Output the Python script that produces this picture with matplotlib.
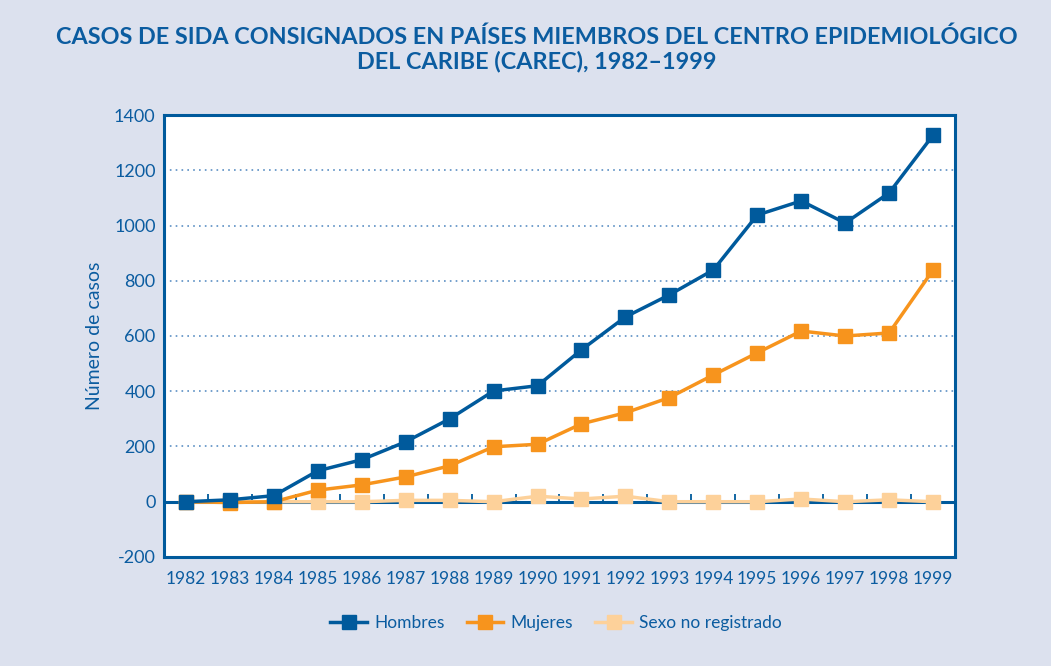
import numpy as np
import matplotlib
matplotlib.use("Agg")
import matplotlib.pyplot as plt

plt.rcParams['font.family'] = ['Lato', 'DejaVu Sans']
plt.rcParams['axes.unicode_minus'] = False

years = [str(y) for y in range(1982, 2000)]
hombres = [0, 7, 22, 112, 152, 217, 300, 401, 420, 550, 669, 749, 839, 1038, 1089, 1009, 1118, 1327]
mujeres = [0, -3, 0, 42, 61, 90, 130, 199, 208, 282, 322, 377, 459, 539, 618, 600, 611, 839]
sexo_nr = [0, 0, 0, 0, 0, 5, 5, 0, 20, 10, 20, 0, 0, 0, 10, 0, 7, 0]

bg = '#DCE1EE'
blue = '#005A9C'
orange = '#F7941D'
light = '#FDD19A'
txt = '#0B5CA0'

fig = plt.figure(figsize=(10.51, 6.66), dpi=100, facecolor=bg)
ax = fig.add_axes([0.156, 0.1637, 0.7527, 0.6636])
ax.set_facecolor('white')

x = np.arange(len(years))

# zero line with category tick marks
ax.axhline(0, color=blue, lw=2.2, zorder=2)
ax.vlines(x[:-1] + 0.5, 0, 28, color=blue, lw=1.3, zorder=2)

ax.plot(x, sexo_nr, color=light, lw=2.5, marker='s', ms=9.5, zorder=3, label='Sexo no registrado')
ax.plot(x, mujeres, color=orange, lw=2.5, marker='s', ms=9.5, zorder=4, label='Mujeres')
ax.plot(x, hombres, color=blue, lw=2.5, marker='s', ms=9.5, zorder=5, label='Hombres')

ax.set_xlim(-0.5, len(years) - 0.5)
ax.set_ylim(-200, 1400)
ax.set_yticks(range(-200, 1401, 200))
ax.set_xticks(x)
ax.set_xticklabels(years)
ax.tick_params(axis='both', length=0, colors=txt, labelsize=13)
ax.tick_params(axis='x', pad=10, labelsize=12.5)
ax.tick_params(axis='y', pad=6)

for v in range(200, 1201, 200):
    ax.axhline(v, color='#5B8FC4', lw=1.2, ls=(0, (1, 2.5)), zorder=1)

for s in ax.spines.values():
    s.set_color(blue)
    s.set_linewidth(2.2)

ax.set_ylabel('Número de casos', color=txt, fontsize=14, labelpad=8)

fig.text(0.511, 0.96, 'CASOS DE SIDA CONSIGNADOS EN PAÍSES MIEMBROS DEL CENTRO EPIDEMIOLÓGICO\nDEL CARIBE (CAREC), 1982–1999',
         ha='center', va='top', color=txt, fontsize=16.8, fontweight='bold', linespacing=1.12)

h, l = ax.get_legend_handles_labels()
leg = fig.legend(h[::-1], l[::-1], loc='center', bbox_to_anchor=(0.529, 0.064), ncol=3,
                 frameon=False, fontsize=12.5, handlelength=2.1, columnspacing=1.3, handletextpad=0.4)
for t in leg.get_texts():
    t.set_color(txt)

fig.savefig('out.png', dpi=100, facecolor=bg)
